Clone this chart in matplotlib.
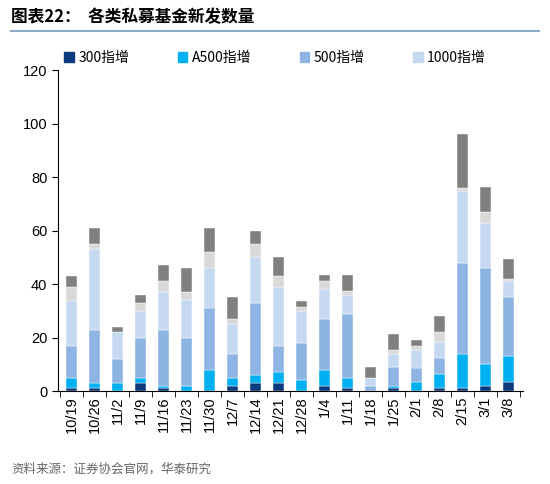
import numpy as np
import matplotlib
matplotlib.use('Agg')
import matplotlib.pyplot as plt
from matplotlib.lines import Line2D

plt.rcParams['font.family'] = ['Noto Sans CJK SC', 'DejaVu Sans']

dates = ['10/19', '10/26', '11/2', '11/9', '11/16', '11/23', '11/30', '12/7', '12/14', '12/21',
         '12/28', '1/4', '1/11', '1/18', '1/25', '2/1', '2/8', '2/15', '3/1', '3/8']
s300 = [1, 1, 0, 3, 1, 0, 0, 2, 3, 3, 0, 2, 1, 0, 1, 0, 1, 1, 2, 3.5]
a500 = [4, 2, 3, 2, 1, 2, 8, 3, 3, 4, 4, 6, 4, 0, 1, 3.5, 5.5, 13, 8, 9.5]
s500 = [12, 20, 9, 15, 21, 18, 23, 9, 27, 10, 14, 19, 24, 2, 7, 5, 6, 34, 36, 22]
s1000 = [16.5, 30, 10, 10, 14, 14, 15, 11, 17, 22, 12, 11, 7, 3, 5, 7, 6, 27, 17, 6]
other1 = [5.5, 2, 0, 3, 4, 3, 6, 2, 5, 4, 1.5, 3, 1.5, 0, 1.5, 1.5, 3.5, 1, 4, 1]
other2 = [4, 6, 2, 3, 6, 9, 9, 8, 5, 7, 2, 2.5, 6, 4, 6, 2, 6, 20, 9.5, 7.5]

series = [s300, a500, s500, s1000, other1, other2]
colors = ['#0B3B7E', '#00B0F0', '#8EB4E3', '#C6D9F1', '#D9D9D9', '#808080']
names = ['300指增', 'A500指增', '500指增', '1000指增']

fig = plt.figure(figsize=(5.5, 4.84), dpi=100)
ax = fig.add_axes([0.105, 0.192, 0.845, 0.663])

x = np.arange(len(dates))
bottom = np.zeros(len(dates))
for vals, c in zip(series, colors):
    ax.bar(x, vals, 0.5, bottom=bottom, color=c, edgecolor='white', linewidth=0.3)
    bottom += np.array(vals)

ax.set_ylim(0, 120)
ax.set_yticks(range(0, 121, 20))
ax.set_xlim(-0.6, len(dates) - 0.4)
ax.set_xticks(x)
ax.set_xticklabels(dates, rotation=90, fontsize=10.5, family=['Liberation Sans'])
for t in ax.get_yticklabels():
    t.set_fontsize(10.5)
    t.set_family('Liberation Sans')
ax.set_xticks(np.arange(-0.5, len(dates), 1), minor=True)
ax.tick_params(axis='x', which='major', length=0, pad=4)
ax.tick_params(axis='x', which='minor', length=4, direction='out')
ax.tick_params(axis='y', length=4)
ax.spines['top'].set_visible(False)
ax.spines['right'].set_visible(False)

handles = [plt.Rectangle((0, 0), 1, 1, color=c) for c in colors[:4]]
fig.legend(handles, names, loc='center', bbox_to_anchor=(0.5, 0.88), ncol=4, frameon=False,
           fontsize=10, handlelength=0.7, handleheight=0.7, columnspacing=3.5, handletextpad=0.3)

fig.text(0.02, 0.965, '图表22：  各类私募基金新发数量', fontsize=12, fontweight='bold', va='center')
fig.add_artist(Line2D([0.02, 0.98], [0.935, 0.935], color='#8EA9C8', linewidth=1.5))
fig.text(0.02, 0.03, '资料来源：证券协会官网，华泰研究', fontsize=9, color='#666666', va='center')

fig.savefig('out.png', dpi=100)
